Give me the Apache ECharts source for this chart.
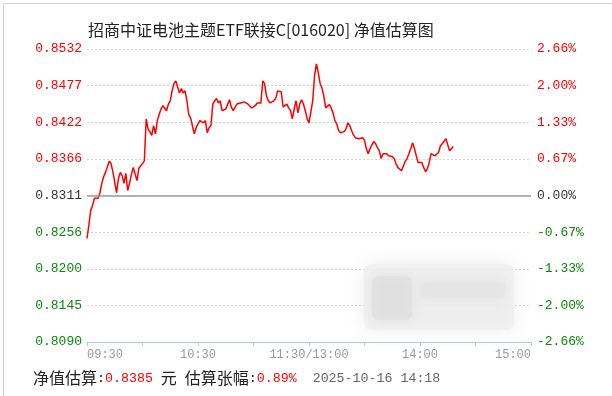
<!DOCTYPE html>
<html><head><meta charset="utf-8">
<script src="https://cdn.jsdelivr.net/npm/echarts@6/dist/echarts.min.js"></script>
<style>html,body{margin:0;padding:0;background:#fff}#c{width:612px;height:396px}</style>
</head><body><div id="c"></div>
<script>
// ---- data ----
const titleText = '招商中证电池主题ETF联接C[016020] 净值估算图';
const timeTicks = ['09:30', '10:30', '11:30/13:00', '14:00', '15:00'];
const navTicks = ['0.8090', '0.8145', '0.8200', '0.8256', '0.8311', '0.8366', '0.8422', '0.8477', '0.8532'];
const pctTicks = ['-2.66%', '-2.00%', '-1.33%', '-0.67%', '0.00%', '0.67%', '1.33%', '2.00%', '2.66%'];
// estimated change vs previous NAV (%), one value per trading minute from 09:30
const estChangePct = [
  -0.78, -0.54, -0.27, -0.18, -0.05, -0.04, -0.05, 0.05, 0.22, 0.34, 0.42, 0.45, 0.62, 0.58, 0.43, 0.42, 0.05, 0.31, 0.42,
  0.36, 0.22, 0.40, 0.09, 0.22, 0.38, 0.51, 0.49, 0.27, 0.49, 0.54, 0.58, 0.63, 1.39, 1.21, 1.16, 1.09, 1.27, 1.12,
  1.36, 1.47, 1.57, 1.63, 1.66, 1.54, 1.66, 1.72, 1.90, 2.03, 2.08, 1.97, 1.86, 1.94, 1.86, 1.90, 1.72, 1.47, 1.41, 1.41,
  1.12, 1.23, 1.30, 1.36, 1.39, 1.32, 1.36, 1.14, 1.23, 1.27, 1.66, 1.72, 1.76, 1.68, 1.72, 1.54, 1.57, 1.57, 1.65,
  1.74, 1.61, 1.54, 1.54, 1.66, 1.63, 1.68, 1.65, 1.70, 1.72, 1.66, 1.63, 1.59, 1.57, 1.63, 1.68, 1.70, 1.68,
  2.08, 2.03, 1.81, 1.72, 1.68, 1.66, 1.72, 1.76, 1.90, 1.90, 1.88, 1.61, 1.63, 1.66, 1.59, 1.54, 1.39, 1.57, 1.72, 1.50,
  1.66, 1.74, 1.66, 1.54, 1.39, 1.32, 1.34, 1.72, 2.17, 2.39, 2.23, 2.04, 1.95, 1.81, 1.59, 1.57, 1.65, 1.59, 1.50,
  1.36, 1.30, 1.18, 1.14, 1.12, 1.16, 1.21, 1.32, 1.27, 1.18, 1.10, 1.05, 1.05, 1.03, 1.01, 1.05, 1.00, 0.85, 0.76,
  0.85, 0.92, 0.98, 0.94, 0.87, 0.81, 0.67, 0.76, 0.78, 0.76, 0.72, 0.72, 0.71, 0.67, 0.58, 0.51, 0.49, 0.45, 0.42,
  0.62, 0.67, 0.76, 0.85, 0.96, 0.85, 0.72, 0.60, 0.58, 0.60, 0.51, 0.43, 0.49, 0.60, 0.76, 0.74, 0.72, 0.69, 0.78,
  0.90, 0.94, 0.96, 1.03, 1.01, 0.81, 0.78, 0.89
];
const latestNav = '0.8385';
const latestPct = '0.89%';
const stampTime = '2025-10-16 14:18';
const pctMin = -2.66, pctMax = 2.66, pctStep = 0.665;
const sessionMinutes = 240;

// ---- chart ----
const RED = '#ff0000', GREEN = '#0a8a0a', GREY = '#333333';
const tickIdx = v => Math.round((v - pctMin) / pctStep);
const tickColor = v => { const i = tickIdx(v); return i > 4 ? RED : (i < 4 ? GREEN : GREY); };
const MONO = 'Liberation Mono';
const CJK = 'Noto Sans CJK SC';
const AXIS_BLUE = '#b4c6e2';

const chart = echarts.init(document.getElementById('c'), null, {renderer: 'canvas'});
chart.setOption({
  animation: false,
  backgroundColor: '#ffffff',
  title: {
    text: titleText, left: 83, top: 17,
    textStyle: {fontFamily: CJK, fontSize: 16, fontWeight: 'normal', color: '#222'}
  },
  grid: {left: 87, right: 81, top: 49, bottom: 54},
  xAxis: {
    type: 'value', min: 0, max: sessionMinutes, interval: 30,
    axisLine: {show: true, onZero: false, lineStyle: {color: AXIS_BLUE, width: 1}},
    axisTick: {show: true, length: 4, lineStyle: {color: AXIS_BLUE}},
    splitLine: {show: false},
    axisLabel: {
      margin: 7, color: '#999', fontFamily: MONO, fontSize: 12,
      showMinLabel: true, showMaxLabel: true,
      alignMinLabel: 'left', alignMaxLabel: 'right',
      formatter: v => (v % 60 === 0 ? timeTicks[v / 60] : '')
    }
  },
  yAxis: [
    {
      type: 'value', position: 'left', min: pctMin, max: pctMax, interval: pctStep,
      axisLine: {show: false}, axisTick: {show: false},
      splitLine: {show: true, lineStyle: {color: '#d6d6d6', type: [2, 2], width: 1}},
      axisLabel: {margin: 5, fontFamily: MONO, fontSize: 13, color: tickColor, formatter: v => navTicks[tickIdx(v)]}
    },
    {
      type: 'value', position: 'right', min: pctMin, max: pctMax, interval: pctStep,
      axisLine: {show: false}, axisTick: {show: false}, splitLine: {show: false},
      axisLabel: {margin: 6, fontFamily: MONO, fontSize: 13, color: tickColor, formatter: v => pctTicks[tickIdx(v)]}
    }
  ],
  series: [{
    type: 'line', yAxisIndex: 0, showSymbol: false, symbol: 'none',
    data: estChangePct.map((v, i) => [i, v]),
    lineStyle: {color: RED, width: 1.5},
    markLine: {
      silent: true, symbol: 'none', label: {show: false},
      lineStyle: {color: '#9a9a9a', type: 'solid', width: 1.5},
      data: [{yAxis: 0}]
    }
  }],
  graphic: [
    {type: 'polyline', silent: true, shape: {points: [[3.5, 396], [3.5, 3.5], [612, 3.5]]},
     style: {stroke: '#cfcfcf', fill: null, lineWidth: 1}},
    {type: 'rect', silent: true, z: 100, shape: {x: 364, y: 264, width: 150, height: 66, r: 8},
     style: {fill: 'rgba(238,238,238,0.7)', shadowBlur: 16, shadowColor: 'rgba(225,225,225,0.9)'}},
    {type: 'rect', silent: true, z: 101, shape: {x: 372, y: 276, width: 40, height: 44, r: 6},
     style: {fill: 'rgba(222,222,222,0.6)', shadowBlur: 10, shadowColor: 'rgba(215,215,215,0.8)'}},
    {type: 'rect', silent: true, z: 101, shape: {x: 420, y: 282, width: 86, height: 16, r: 6},
     style: {fill: 'rgba(228,228,228,0.6)', shadowBlur: 10, shadowColor: 'rgba(220,220,220,0.8)'}},
    {type: 'text', silent: true, z: 100, left: 33, top: 370,
     style: {
       text: '{k|净值估算}{m|:}{r|' + latestNav + '}{m| }{k|元}{m| }{k|估算张幅}{m|:}{r|' + latestPct + '}{m|  }{g|' + stampTime + '}',
       rich: {
         k: {fontFamily: CJK, fontSize: 16, fill: '#222'},
         m: {fontFamily: MONO, fontSize: 13.3, fill: '#222'},
         r: {fontFamily: MONO, fontSize: 13.3, fill: RED},
         g: {fontFamily: MONO, fontSize: 13.3, fill: '#666'}
       }
     }}
  ]
});
</script></body></html>
